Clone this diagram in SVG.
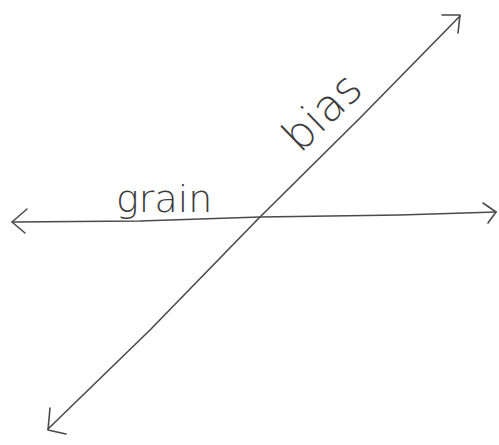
<svg xmlns="http://www.w3.org/2000/svg" width="499" height="445" viewBox="0 0 499 445">
<style>
.ln{fill:none;stroke:#4a4a4a;stroke-width:1.6;stroke-linecap:round;stroke-linejoin:round}
.lbl{font-family:"DejaVu Sans","Liberation Sans",sans-serif;fill:#3c3c3c;font-weight:300}
</style>
<rect width="499" height="445" fill="#ffffff"/>
<g id="connectors">
<g id="grain-axis">
<path class="ln" d="M12,222 L140,221 L260,217 L400,215 L496,212"/>
<path class="ln" d="M27,209 L12,222 L25,233"/>
<path class="ln" d="M483,203 L496,212 L488,223"/>
</g>
<g id="bias-axis">
<path class="ln" d="M48,429 L150,330 L258,219 L360,118 L460,16"/>
<path class="ln" d="M442,15 L460,15 L458,33"/>
<path class="ln" d="M50,408 L48,430 L66,434"/>
</g>
</g>
<g id="label-grain">
<text class="lbl" x="116" y="212" font-size="38">grain</text>
</g>
<g id="label-bias">
<text class="lbl" x="300" y="154" font-size="44" transform="rotate(-44 300 154)">bias</text>
</g>
</svg>
